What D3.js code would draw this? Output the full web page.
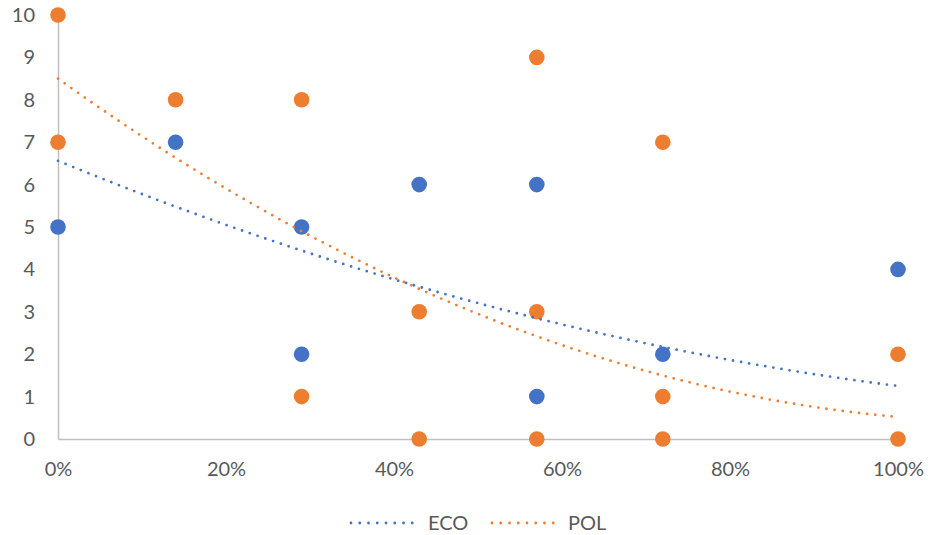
<!DOCTYPE html>
<html>
<head>
<meta charset="utf-8">
<script src="https://cdn.jsdelivr.net/npm/d3@7"></script>
<style>
  html, body { margin: 0; padding: 0; background: #fff; }
  svg { display: block; font-family: Lato, "Open Sans", sans-serif; }
</style>
</head>
<body>
<svg id="chart" width="928" height="535"></svg>
<script>
// Share of the group (x) against score (y) for the two series
const ecoX = [0, 0.14, 0.29, 0.29, 0.43, 0.57, 0.57, 0.72, 1];
const ecoY = [5, 7, 5, 2, 6, 6, 1, 2, 4];
const polX = [0, 0, 0.14, 0.29, 0.29, 0.43, 0.43, 0.57, 0.57, 0.57, 0.72, 0.72, 0.72, 1, 1];
const polY = [10, 7, 8, 8, 1, 3, 0, 9, 3, 0, 7, 1, 0, 2, 0];

// Second-order trendline coefficients: y = c0 + c1*x + c2*x^2
const ecoTrend = [6.56, -8.11, 2.80];
const polTrend = [8.50, -14.22, 6.24];

const xTicks = [0, 0.2, 0.4, 0.6, 0.8, 1];
const yTicks = [0, 1, 2, 3, 4, 5, 6, 7, 8, 9, 10];
const seriesNames = ["ECO", "POL"];
const colors = { ECO: "#4472C4", POL: "#ED7D31" };

const svg = d3.select("#chart");
const x = d3.scaleLinear().domain([0, 1]).range([58, 898]);
const y = d3.scaleLinear().domain([0, 10]).range([439, 15]);

const axisColor = "#BFBFBF";
const textColor = "#595959";

// Axes
const gx = svg.append("g").attr("transform", `translate(0,${y(0)})`)
  .call(d3.axisBottom(x).tickValues(xTicks).tickFormat(d3.format(".0%"))
    .tickSize(0).tickSizeOuter(0).tickPadding(23));
const gy = svg.append("g").attr("transform", `translate(${x(0)},0)`)
  .call(d3.axisLeft(y).tickValues(yTicks).tickFormat(d3.format("d"))
    .tickSize(0).tickSizeOuter(0).tickPadding(23));
[gx, gy].forEach(g => {
  g.select(".domain").attr("stroke", axisColor).attr("stroke-width", 1.5);
  g.selectAll("text").attr("fill", textColor).style("font-size", "20px")
    .style("font-family", "Lato, 'Open Sans', sans-serif");
});

// Points
function drawPoints(xs, ys, color) {
  svg.append("g").selectAll("circle")
    .data(xs.map((v, i) => [v, ys[i]]))
    .join("circle")
    .attr("cx", d => x(d[0]))
    .attr("cy", d => y(d[1]))
    .attr("r", 7.8)
    .attr("fill", color);
}
drawPoints(ecoX, ecoY, colors.ECO);
drawPoints(polX, polY, colors.POL);

// Dotted trendlines
const samples = d3.range(0, 101).map(i => i / 100);
const line = d3.line().x(d => x(d[0])).y(d => y(d[1]));
function drawTrend(c, color) {
  svg.append("path")
    .attr("d", line(samples.map(t => [t, c[0] + c[1] * t + c[2] * t * t])))
    .attr("fill", "none")
    .attr("stroke", color)
    .attr("stroke-width", 2.8)
    .attr("stroke-linecap", "round")
    .attr("stroke-dasharray", "0 8.2");
}
drawTrend(ecoTrend, colors.ECO);
drawTrend(polTrend, colors.POL);

// Legend
const legend = svg.append("g");
const legendItems = [
  { name: seriesNames[0], x0: 351, x1: 421, tx: 428 },
  { name: seriesNames[1], x0: 492, x1: 562, tx: 568 }
];
legendItems.forEach(it => {
  legend.append("line")
    .attr("x1", it.x0).attr("x2", it.x1).attr("y1", 523).attr("y2", 523)
    .attr("stroke", colors[it.name]).attr("stroke-width", 2.8)
    .attr("stroke-linecap", "round").attr("stroke-dasharray", "0 8.75");
  legend.append("text")
    .attr("x", it.tx).attr("y", 523).attr("dy", "0.36em")
    .attr("fill", textColor).style("font-size", "20px")
    .text(it.name);
});
</script>
</body>
</html>
